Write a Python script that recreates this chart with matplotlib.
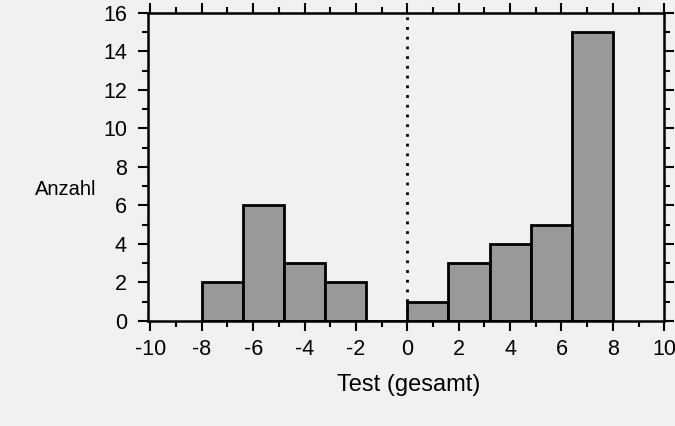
import matplotlib
matplotlib.use("Agg")
import matplotlib.pyplot as plt
from matplotlib.ticker import MultipleLocator

bin_edges = [-8, -6.4, -4.8, -3.2, -1.6, 0, 1.6, 3.2, 4.8, 6.4, 8]
counts = [2, 6, 3, 2, 0, 1, 3, 4, 5, 15]
xticks = [-10, -8, -6, -4, -2, 0, 2, 4, 6, 8, 10]
yticks = [0, 2, 4, 6, 8, 10, 12, 14, 16]

plt.rcParams['font.family'] = ['Liberation Sans', 'DejaVu Sans']
plt.rcParams['axes.unicode_minus'] = False
bg = '#f1f1ef'
fig = plt.figure(figsize=(6.75, 4.26), dpi=100, facecolor=bg)
ax = fig.add_axes([0.219, 0.2465, 0.765, 0.723])
ax.set_facecolor(bg)

lefts = bin_edges[:-1]
widths = [b - a for a, b in zip(bin_edges[:-1], bin_edges[1:])]
ax.bar(lefts, counts, width=widths, align='edge', color='#999999',
       edgecolor='black', linewidth=2, zorder=2)
ax.axvline(0, color='black', linestyle=(0, (1, 2.5)), linewidth=2, zorder=3)

ax.set_xlim(-10.1, 10)
ax.set_ylim(0, 16)
ax.set_xticks(xticks)
ax.set_yticks(yticks)
ax.xaxis.set_minor_locator(MultipleLocator(1))
ax.yaxis.set_minor_locator(MultipleLocator(1))
ax.tick_params(which='both', direction='out', top=True, right=True,
               labeltop=False, labelright=False, width=1.5)
ax.tick_params(which='major', length=7, labelsize=15.5)
ax.tick_params(which='minor', length=4)
ax.tick_params(axis='x', which='major', pad=6)
ax.tick_params(axis='y', which='major', pad=8)
for s in ax.spines.values():
    s.set_linewidth(1.8)

fig.text(0.052, 0.555, 'Anzahl', fontsize=14.5, ha='left', va='center')
fig.text(0.605, 0.097, 'Test (gesamt)', fontsize=17, ha='center', va='center')

fig.savefig('out.png', dpi=100, facecolor=bg)
